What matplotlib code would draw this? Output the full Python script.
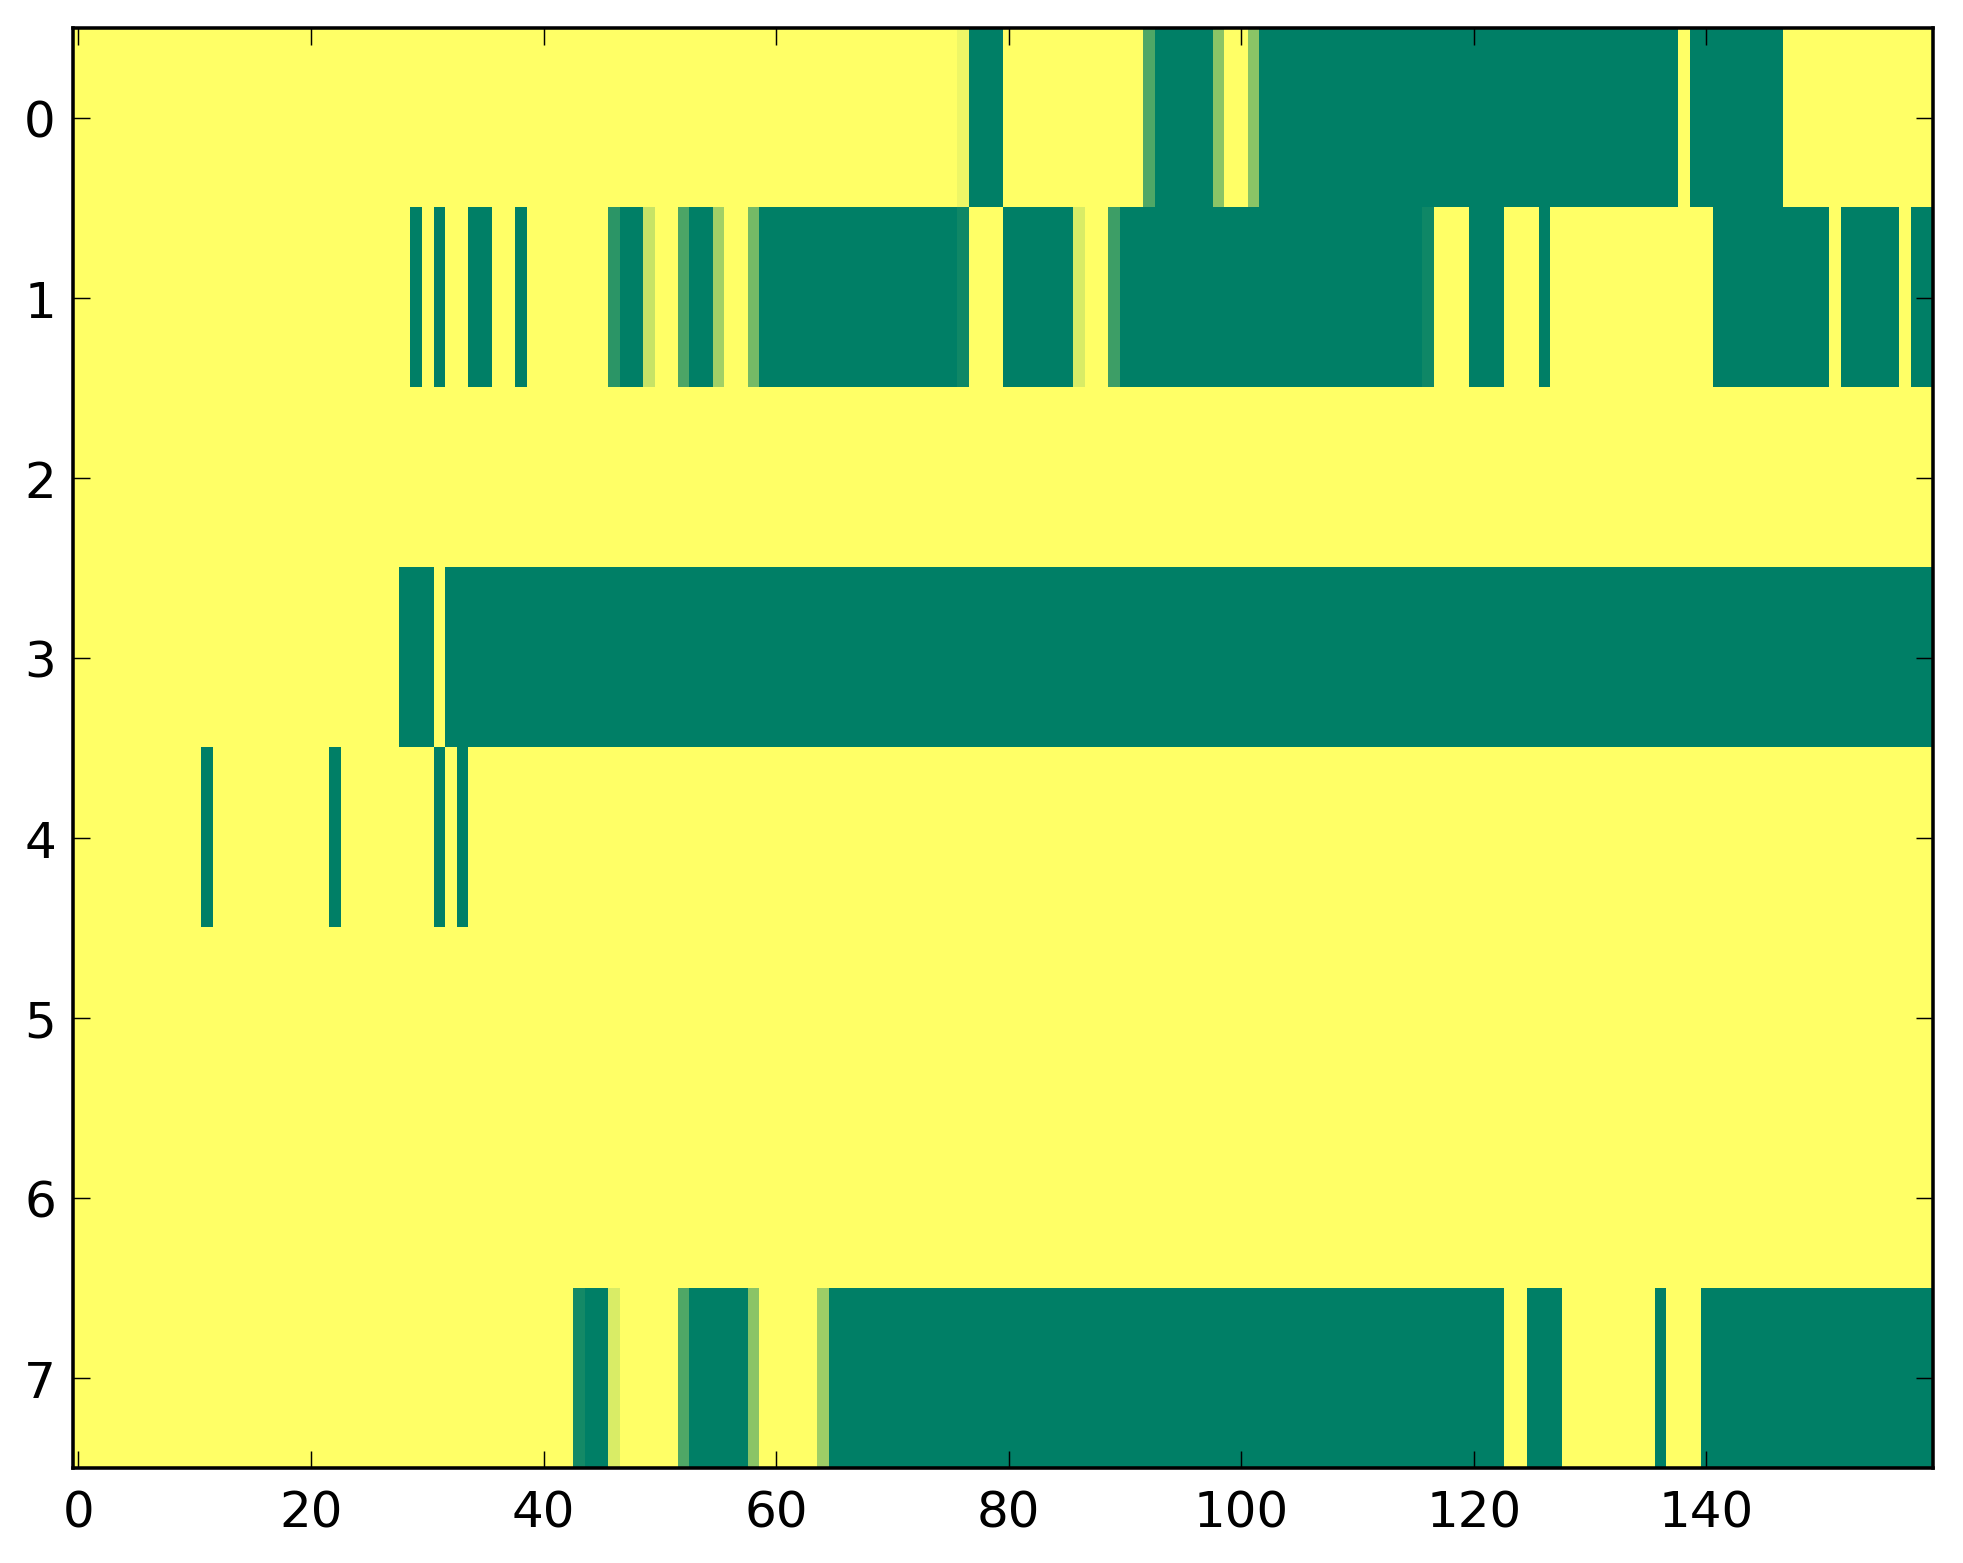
import numpy as np
import matplotlib
matplotlib.use("Agg")
import matplotlib.pyplot as plt

# runs of non-zero cells per row: (first col, last col, value)
n_rows = 8
n_cols = 160

row0 = [(76, 76, 0.07), (77, 79, 1.0), (92, 92, 0.69), (93, 97, 1.0),
        (98, 98, 0.46), (101, 101, 0.46), (102, 137, 1.0), (139, 146, 1.0)]
row1 = [(29, 29, 1.0), (31, 31, 1.0), (34, 35, 1.0), (38, 38, 1.0),
        (46, 46, 0.83), (47, 48, 1.0), (49, 49, 0.22), (52, 52, 0.70),
        (53, 54, 1.0), (55, 55, 0.37), (58, 58, 0.54), (59, 75, 1.0),
        (76, 76, 0.94), (80, 85, 1.0), (86, 86, 0.15), (89, 89, 0.76),
        (90, 115, 1.0), (116, 116, 0.94), (120, 122, 1.0), (126, 126, 1.0),
        (141, 150, 1.0), (152, 156, 1.0), (158, 159, 1.0)]
row2 = []
row3 = [(28, 30, 1.0), (32, 159, 1.0)]
row4 = [(11, 11, 1.0), (22, 22, 1.0), (31, 31, 1.0), (33, 33, 1.0)]
row5 = []
row6 = []
row7 = [(43, 43, 0.92), (44, 45, 1.0), (46, 46, 0.15), (52, 52, 0.69),
        (53, 57, 1.0), (58, 58, 0.46), (64, 64, 0.38), (65, 122, 1.0),
        (125, 127, 1.0), (136, 136, 1.0), (140, 159, 1.0)]

rows = [row0, row1, row2, row3, row4, row5, row6, row7]

data = np.zeros((n_rows, n_cols))
for r, runs in enumerate(rows):
    for a, b, v in runs:
        data[r, a:b + 1] = v

plt.rcParams["font.family"] = "DejaVu Sans"
plt.rcParams["font.size"] = 12

fig = plt.figure(figsize=(1963 / 300, 1564 / 300), dpi=300)
ax = fig.add_axes([0.0370, 0.0609, 0.9477, 0.9208])
ax.imshow(data, cmap="summer_r", vmin=0, vmax=1,
          interpolation="nearest", aspect="auto")

ax.set_xticks(np.arange(0, 141, 20))
ax.set_yticks(np.arange(0, 8))
ax.tick_params(direction="in", top=True, right=True, length=4, width=0.35)
ax.tick_params(axis="x", pad=5)
ax.tick_params(axis="y", pad=4)
for s in ax.spines.values():
    s.set_linewidth(0.85)

fig.savefig("out.png", dpi=300)
